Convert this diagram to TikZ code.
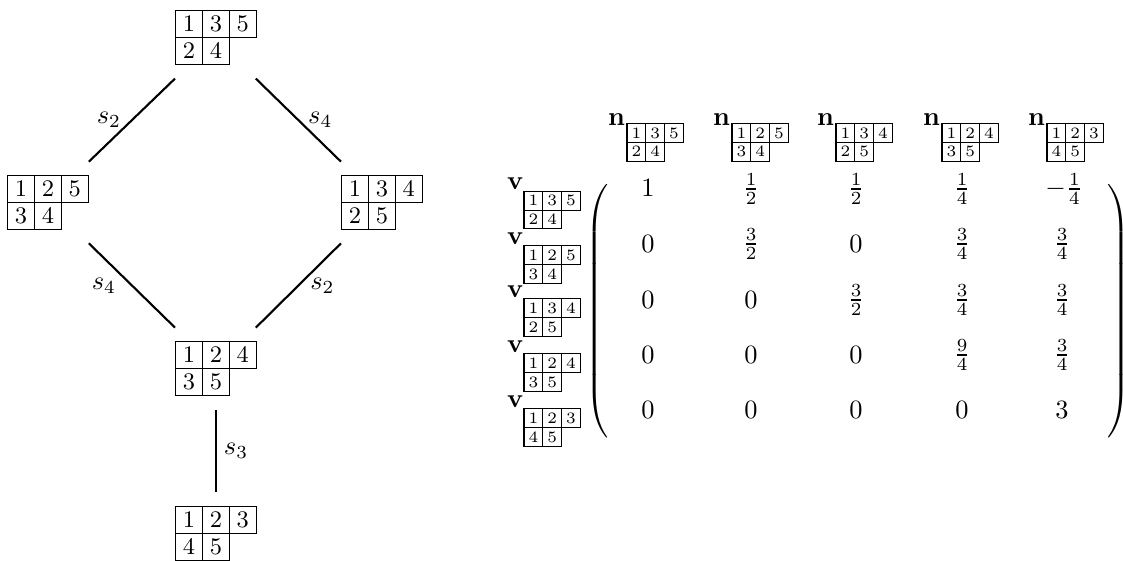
\documentclass[tikz,border=0pt]{standalone}
\usepackage{amsmath}
\usetikzlibrary{calc}
\newlength\ytbig \setlength\ytbig{9.8pt}
\newlength\ytsmall \setlength\ytsmall{6.7pt}
\newcommand\ycell[2]{{\fboxsep=0pt\fboxrule=0.4pt\fbox{\makebox[#1]{\rule[-0.205#1]{0pt}{#1}#2}}}}
\newcommand\ytab[6]{\vbox{\offinterlineskip\hbox{\ycell{#1}{#2}\kern-0.4pt\ycell{#1}{#3}\kern-0.4pt\ycell{#1}{#4}}\kern-0.4pt\hbox{\ycell{#1}{#5}\kern-0.4pt\ycell{#1}{#6}}}}
\newcommand\bigtab[5]{{\fontsize{9}{10}\selectfont\ytab{\ytbig}{#1}{#2}{#3}{#4}{#5}}}
\newcommand\smalltab[5]{{\fontsize{6}{7}\selectfont\ytab{\ytsmall}{#1}{#2}{#3}{#4}{#5}}}
\newcommand\hangtab[5]{\vtop{\offinterlineskip\kern0pt\smalltab{#1}{#2}{#3}{#4}{#5}}}
\tikzset{
  tab/.style={inner sep=0pt, outer sep=0pt, anchor=north west},
  lbl/.style={inner sep=0pt, outer sep=0pt, anchor=base west},
  ent/.style={inner sep=0pt, outer sep=0pt},
  hasse/.style={line width=0.8pt},
  slab/.style={inner sep=0pt, midway}
}
\begin{document}
\begin{tikzpicture}[x=0.3788pt,y=-0.3788pt]
\useasboundingbox (0,0) rectangle (1123,561);
% Hasse diagram
\node[tab] (T135) at (175,10)  {\bigtab{1}{3}{5}{2}{4}};
\node[tab] (T125) at (7,175)   {\bigtab{1}{2}{5}{3}{4}};
\node[tab] (T134) at (341,175) {\bigtab{1}{3}{4}{2}{5}};
\node[tab] (T124) at (175,341) {\bigtab{1}{2}{4}{3}{5}};
\node[tab] (T123) at (175,506) {\bigtab{1}{2}{3}{4}{5}};
\draw[hasse] ($(T135.south west)+(0,13.7)$) -- node[slab,xshift=-8.7pt]{$s_2$} ($(T125.north east)+(0,-13.3)$);
\draw[hasse] ($(T135.south east)+(-1,13.7)$) -- node[slab,xshift=8.3pt]{$s_4$} ($(T134.north west)+(0,-13.3)$);
\draw[hasse] ($(T125.south east)+(0,13.4)$) -- node[slab,xshift=-10.6pt]{$s_4$} ($(T124.north west)+(0,-13.4)$);
\draw[hasse] ($(T134.south west)+(0,13.4)$) -- node[slab,xshift=9.1pt]{$s_2$} ($(T124.north east)+(-1,-13.4)$);
\draw[hasse] ($(T124.south)+(0,14)$) -- node[slab,xshift=7.6pt]{$s_3$} ($(T123.north)+(0,-14)$);
% column headers
\node[lbl] (n1) at (608,126)  {$\mathbf{n}$\kern0.6pt\raise1.1pt\hangtab{1}{3}{5}{2}{4}};
\node[lbl] (n2) at (713,126)  {$\mathbf{n}$\kern0.6pt\raise1.1pt\hangtab{1}{2}{5}{3}{4}};
\node[lbl] (n3) at (817,126)  {$\mathbf{n}$\kern0.6pt\raise1.1pt\hangtab{1}{3}{4}{2}{5}};
\node[lbl] (n4) at (923,126)  {$\mathbf{n}$\kern0.6pt\raise1.1pt\hangtab{1}{2}{4}{3}{5}};
\node[lbl] (n5) at (1028,126) {$\mathbf{n}$\kern0.6pt\raise1.1pt\hangtab{1}{2}{3}{4}{5}};
% row labels
\node[lbl] (v1) at (507,190)   {$\mathbf{v}$\lower0.3pt\hangtab{1}{3}{5}{2}{4}};
\node[lbl] (v2) at (507,244.5) {$\mathbf{v}$\lower0.3pt\hangtab{1}{2}{5}{3}{4}};
\node[lbl] (v3) at (507,297.5) {$\mathbf{v}$\lower0.3pt\hangtab{1}{3}{4}{2}{5}};
\node[lbl] (v4) at (507,352.5) {$\mathbf{v}$\lower0.3pt\hangtab{1}{2}{4}{3}{5}};
\node[lbl] (v5) at (507,407.5) {$\mathbf{v}$\lower0.3pt\hangtab{1}{2}{3}{4}{5}};
% parentheses
\node[ent] (lp) at (598.5,311.5) {$\left(\vcenter{\hrule height 97pt width 0pt}\right.$};
\node[ent] (rp) at (1117.5,311.5) {$\left.\vcenter{\hrule height 97pt width 0pt}\right)$};
% entries
\node[ent] (m11) at (648,188) {$1$};
\node[ent] (m12) at (751,189) {$\frac{1}{2}$};
\node[ent] (m13) at (856,189) {$\frac{1}{2}$};
\node[ent] (m14) at (962,189) {$\frac{1}{4}$};
\node[ent] (m15) at (1064,189) {$-\frac{1}{4}$};
\node[ent] (m21) at (648,244) {$0$};
\node[ent] (m22) at (751,244) {$\frac{3}{2}$};
\node[ent] (m23) at (856,244) {$0$};
\node[ent] (m24) at (962,244) {$\frac{3}{4}$};
\node[ent] (m25) at (1062,244) {$\frac{3}{4}$};
\node[ent] (m31) at (648,300) {$0$};
\node[ent] (m32) at (751,300) {$0$};
\node[ent] (m33) at (856,300) {$\frac{3}{2}$};
\node[ent] (m34) at (962,300) {$\frac{3}{4}$};
\node[ent] (m35) at (1062,300) {$\frac{3}{4}$};
\node[ent] (m41) at (648,355) {$0$};
\node[ent] (m42) at (751,355) {$0$};
\node[ent] (m43) at (856,355) {$0$};
\node[ent] (m44) at (962,355) {$\frac{9}{4}$};
\node[ent] (m45) at (1062,355) {$\frac{3}{4}$};
\node[ent] (m51) at (648,410) {$0$};
\node[ent] (m52) at (751,410) {$0$};
\node[ent] (m53) at (856,410) {$0$};
\node[ent] (m54) at (962,410) {$0$};
\node[ent] (m55) at (1062,410) {$3$};
\end{tikzpicture}
\end{document}
